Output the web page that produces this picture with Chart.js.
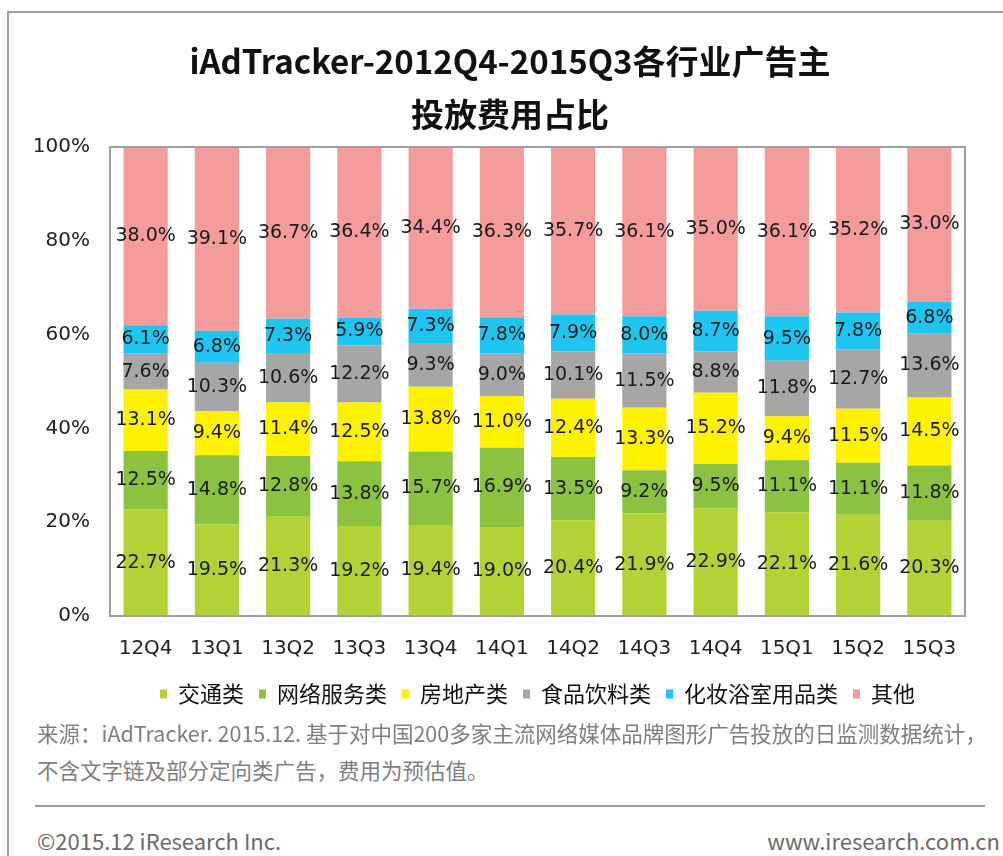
<!DOCTYPE html>
<html>
<head>
<meta charset="utf-8">
<script src="https://cdn.jsdelivr.net/npm/chart.js@4"></script>
<style>
  body { margin: 0; background: #fff; width: 1003px; height: 856px; overflow: hidden; position: relative; }
  .frame { position: absolute; left: 7px; top: 11px; width: 1020px; height: 900px; border: 2px solid #a0a0a0; }
  .wrap { position: absolute; left: 0; top: 0; width: 1003px; height: 720px; }
  .src { position: absolute; left: 37px; color: #7f7f7f; font: 21.5px/30px "Noto Sans CJK SC", sans-serif; white-space: nowrap; }
  .rule { position: absolute; left: 35px; top: 805px; width: 950px; height: 0; border-top: 2px solid #9a9a9a; }
  .foot { position: absolute; top: 825px; color: #6a6a6a; font: 22px/30px "Noto Sans CJK SC", sans-serif; white-space: nowrap; }
</style>
</head>
<body>
<div class="frame"></div>
<div class="wrap"><canvas id="shareChart"></canvas></div>
<div class="src" style="top:718px">来源：iAdTracker. 2015.12. 基于对中国200多家主流网络媒体品牌图形广告投放的日监测数据统计，</div>
<div class="src" style="top:755px">不含文字链及部分定向类广告，费用为预估值。</div>
<div class="rule"></div>
<div class="foot" style="left:37px">©2015.12 iResearch Inc.</div>
<div class="foot" style="right:3px">www.iresearch.com.cn</div>

<script>
const quarters = ["12Q4", "13Q1", "13Q2", "13Q3", "13Q4", "14Q1", "14Q2", "14Q3", "14Q4", "15Q1", "15Q2", "15Q3"];
const transport = [22.7, 19.5, 21.3, 19.2, 19.4, 19.0, 20.4, 21.9, 22.9, 22.1, 21.6, 20.3];
const netService = [12.5, 14.8, 12.8, 13.8, 15.7, 16.9, 13.5, 9.2, 9.5, 11.1, 11.1, 11.8];
const realEstate = [13.1, 9.4, 11.4, 12.5, 13.8, 11.0, 12.4, 13.3, 15.2, 9.4, 11.5, 14.5];
const foodDrink = [7.6, 10.3, 10.6, 12.2, 9.3, 9.0, 10.1, 11.5, 8.8, 11.8, 12.7, 13.6];
const cosmetics = [6.1, 6.8, 7.3, 5.9, 7.3, 7.8, 7.9, 8.0, 8.7, 9.5, 7.8, 6.8];
const others = [38.0, 39.1, 36.7, 36.4, 34.4, 36.3, 35.7, 36.1, 35.0, 36.1, 35.2, 33.0];
const yTicks = [0, 20, 40, 60, 80, 100];

const numFont = "'DejaVu Sans', sans-serif";
const cjkFont = "'Noto Sans CJK SC', sans-serif";

// label in the middle of every stacked segment
const segLabels = {
    id: "segLabels",
    afterDatasetsDraw(chart) {
        const c = chart.ctx;
        c.save();
        c.font = "19px " + numFont;
        c.fillStyle = "#1a1a1a";
        c.textAlign = "center";
        c.textBaseline = "middle";
        chart.data.datasets.forEach((ds, i) => {
            chart.getDatasetMeta(i).data.forEach((bar, j) => {
                const p = bar.getProps(["x", "y", "base"], true);
                c.fillText(ds.data[j].toFixed(1) + "%", p.x, (p.y + p.base) / 2);
            });
        });
        c.restore();
    }
};

// gray box round the plot area, legend nudged under the plot's centre
const plotBox = {
    id: "plotBox",
    afterLayout(chart) {
        const lg = chart.legend;
        const shift = (chart.chartArea.left + chart.chartArea.right) / 2 - (lg.left + lg.right) / 2;
        lg.left += shift;
        lg.right += shift;
        chart.titleBlock.left += 11;
        chart.titleBlock.right += 11;
    },
    afterDraw(chart) {
        const a = chart.chartArea;
        const c = chart.ctx;
        c.save();
        c.strokeStyle = "#a0a0a0";
        c.lineWidth = 2;
        c.strokeRect(a.left, a.top, a.right - a.left, a.bottom - a.top);
        c.restore();
    }
};

const ctx = document.getElementById("shareChart");

new Chart(ctx, {
    type: "bar",
    data: {
        labels: quarters,
        datasets: [
            { label: "交通类", data: transport, backgroundColor: "#b2d235" },
            { label: "网络服务类", data: netService, backgroundColor: "#8bc23f" },
            { label: "房地产类", data: realEstate, backgroundColor: "#fff200" },
            { label: "食品饮料类", data: foodDrink, backgroundColor: "#a6a6a6" },
            { label: "化妆浴室用品类", data: cosmetics, backgroundColor: "#1ec5f0" },
            { label: "其他", data: others, backgroundColor: "#f49b9b" }
        ]
    },
    options: {
        responsive: true,
        maintainAspectRatio: false,
        animation: false,
        layout: { padding: { left: 33, right: 38, top: 0, bottom: 5 } },
        datasets: { bar: { barPercentage: 0.62, categoryPercentage: 1 } },
        scales: {
            x: {
                stacked: true,
                grid: { display: false, drawTicks: false },
                border: { display: false },
                ticks: { color: "#222", padding: 21, font: { family: numFont, size: 20 } },
                afterFit: axis => { axis.height = 52; }
            },
            y: {
                stacked: true,
                min: 0,
                max: 100,
                grid: { display: false, drawTicks: false },
                border: { display: false },
                afterBuildTicks: axis => { axis.ticks = yTicks.map(v => ({ value: v })); },
                afterFit: axis => { axis.width = 77; },
                ticks: {
                    color: "#222",
                    padding: 20,
                    font: { family: numFont, size: 20 },
                    callback: v => v + "%"
                }
            }
        },
        plugins: {
            title: {
                display: true,
                text: ["iAdTracker-2012Q4-2015Q3各行业广告主", "投放费用占比"],
                color: "#111",
                font: { family: cjkFont, size: 33, weight: "bold", lineHeight: 1.606 },
                padding: { top: 35, bottom: 6 }
            },
            legend: {
                position: "bottom",
                labels: {
                    color: "#111",
                    boxWidth: 7,
                    boxHeight: 9,
                    padding: 15,
                    font: { family: cjkFont, size: 22 }
                }
            },
            tooltip: { enabled: false }
        }
    },
    plugins: [segLabels, plotBox]
});
</script>
</body>
</html>
